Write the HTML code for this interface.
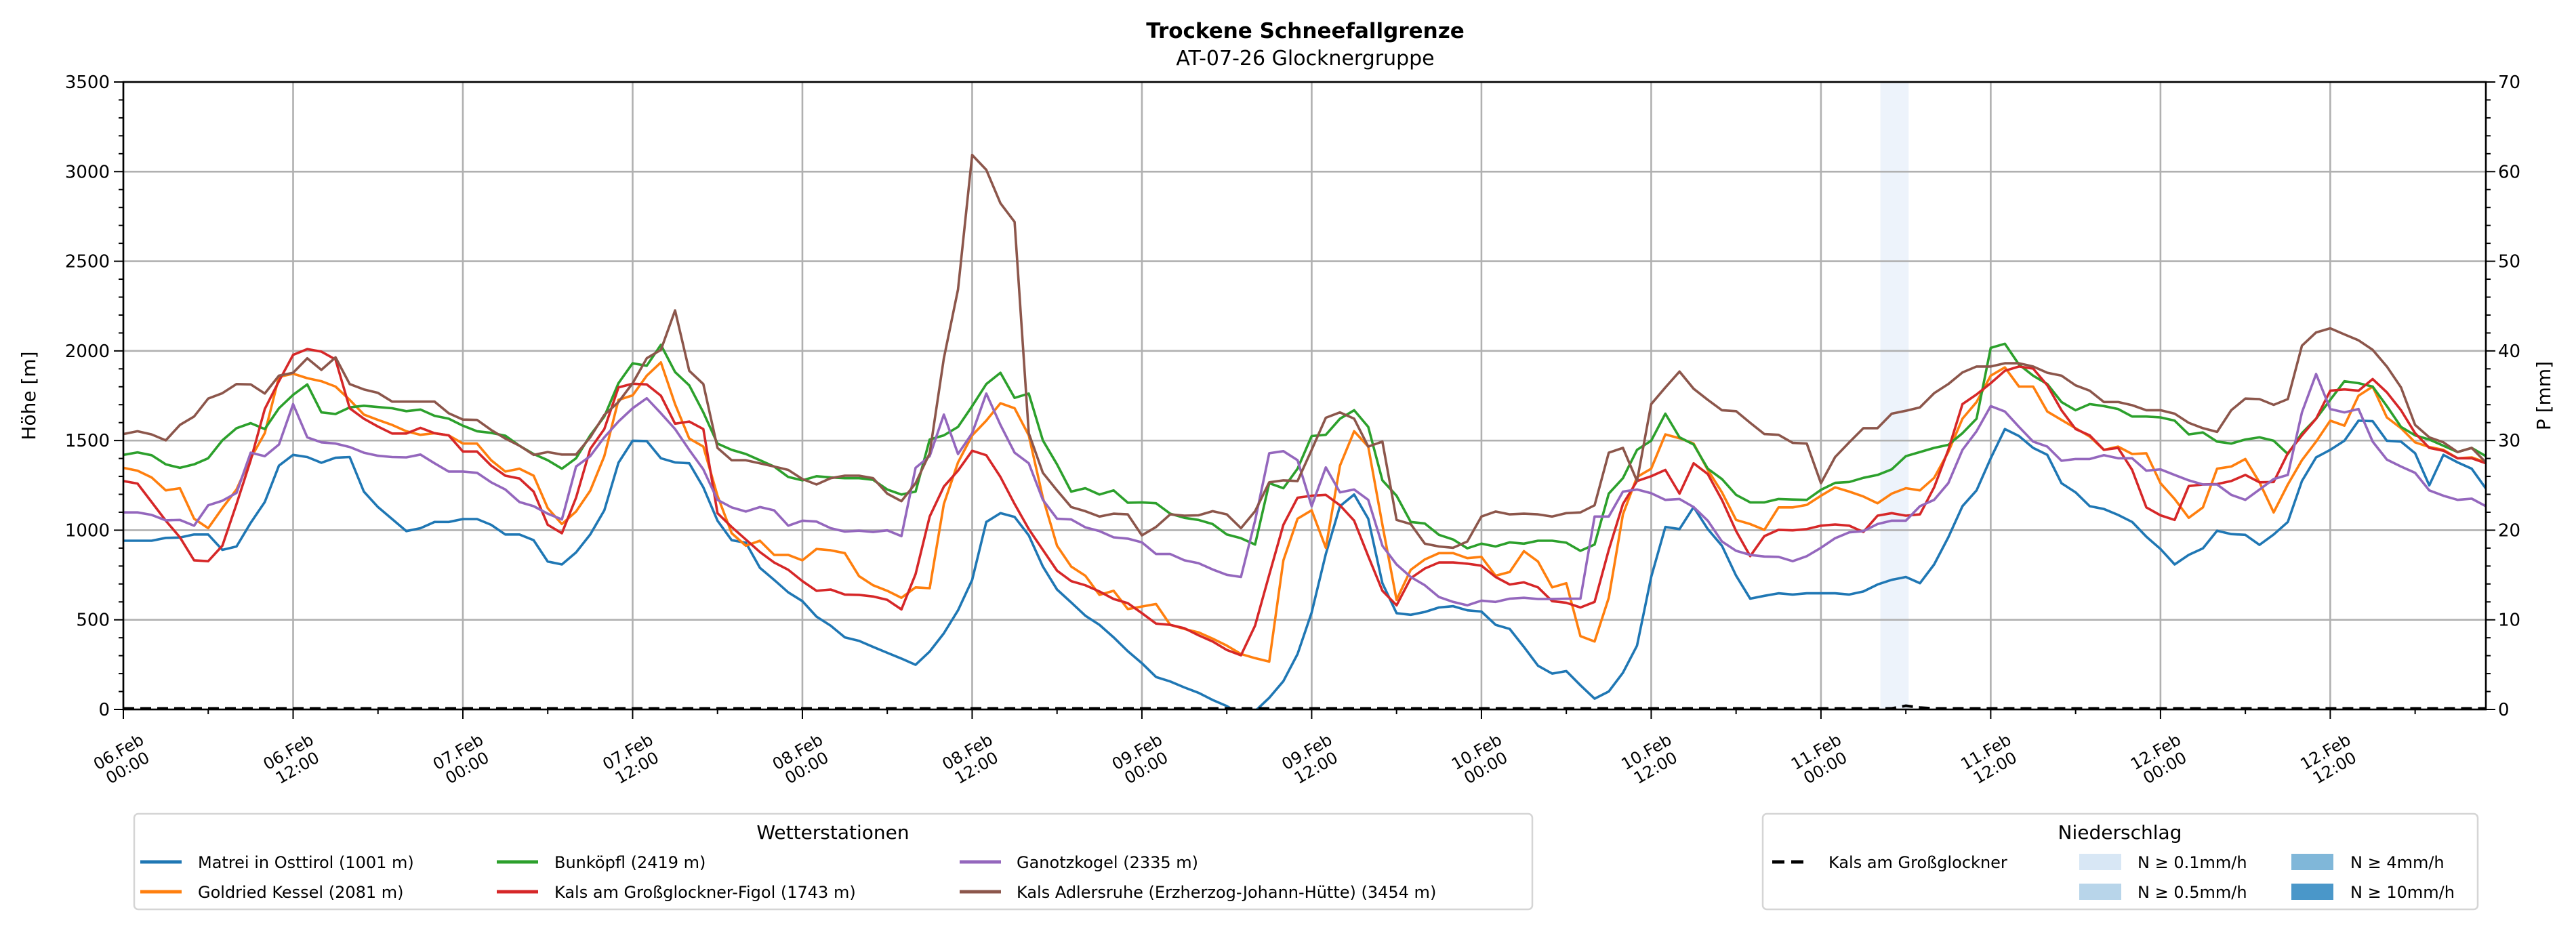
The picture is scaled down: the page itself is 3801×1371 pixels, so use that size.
<!DOCTYPE html>
<html><head><meta charset="utf-8"><style>
html,body{margin:0;padding:0;background:#fff;}
svg{display:block;font-family:"DejaVu Sans","Liberation Sans",sans-serif;}
</style></head><body>
<svg id="chart" xmlns="http://www.w3.org/2000/svg" width="3801" height="1371" viewBox="0 0 3801 1371">
<rect x="0" y="0" width="3801" height="1371" fill="#fff"/>
<text x="1926" y="56" text-anchor="middle" font-size="31" font-weight="bold">Trockene Schneefallgrenze</text>
<text x="1926" y="96" text-anchor="middle" font-size="30">AT-07-26 Glocknergruppe</text>
<defs><clipPath id="pc"><rect x="182" y="121" width="3486" height="926"/></clipPath></defs>
<g id="bands" clip-path="url(#pc)"></g>
<g id="grid"></g>
<g id="series" clip-path="url(#pc)"></g>
<g id="axes"></g>
<text transform="translate(52,584) rotate(-90)" text-anchor="middle" font-size="28">Höhe [m]</text>
<text transform="translate(3763,584) rotate(-90)" text-anchor="middle" font-size="28">P [mm]</text>

<g>
<rect x="198" y="1201" width="2063" height="141" rx="6" fill="#fff" stroke="#d5d5d5" stroke-width="2.5"/>
<text x="1229" y="1238" text-anchor="middle" font-size="28">Wetterstationen</text>
<g><line x1="207" y1="1272" x2="268" y2="1272" stroke="#1f77b4" stroke-width="5"/><text x="292" y="1281" font-size="24">Matrei in Osttirol (1001 m)</text></g>
<g><line x1="207" y1="1316" x2="268" y2="1316" stroke="#ff7f0e" stroke-width="5"/><text x="292" y="1325" font-size="24">Goldried Kessel (2081 m)</text></g>
<g><line x1="733" y1="1272" x2="794" y2="1272" stroke="#2ca02c" stroke-width="5"/><text x="818" y="1281" font-size="24">Bunköpfl (2419 m)</text></g>
<g><line x1="733" y1="1316" x2="794" y2="1316" stroke="#d62728" stroke-width="5"/><text x="818" y="1325" font-size="24">Kals am Großglockner-Figol (1743 m)</text></g>
<g><line x1="1416" y1="1272" x2="1477" y2="1272" stroke="#9467bd" stroke-width="5"/><text x="1500" y="1281" font-size="24">Ganotzkogel (2335 m)</text></g>
<g><line x1="1416" y1="1316" x2="1477" y2="1316" stroke="#8c564b" stroke-width="5"/><text x="1500" y="1325" font-size="24">Kals Adlersruhe (Erzherzog-Johann-Hütte) (3454 m)</text></g>
</g>

<g>
<rect x="2601" y="1201" width="1055" height="141" rx="6" fill="#fff" stroke="#d5d5d5" stroke-width="2.5"/>
<text x="3128" y="1238" text-anchor="middle" font-size="28">Niederschlag</text>
<g><line x1="2615" y1="1272" x2="2670" y2="1272" stroke="#000" stroke-width="5" stroke-dasharray="18,10"/><text x="2698" y="1281" font-size="24">Kals am Großglockner</text></g>
<g><rect x="3068" y="1260" width="62" height="24" fill="#d8e7f5"/><text x="3154" y="1281" font-size="24">N ≥ 0.1mm/h</text></g>
<g><rect x="3068" y="1304" width="62" height="24" fill="#b8d5ea"/><text x="3154" y="1325" font-size="24">N ≥ 0.5mm/h</text></g>
<g><rect x="3381" y="1260" width="62" height="24" fill="#80b7d9"/><text x="3468" y="1281" font-size="24">N ≥ 4mm/h</text></g>
<g><rect x="3381" y="1304" width="62" height="24" fill="#4a97c9"/><text x="3468" y="1325" font-size="24">N ≥ 10mm/h</text></g>
</g>
</svg>
<script>
const matrei=[941,941,941,957,959,976,976,890,909,1041,1157,1360,1420,1408,1376,1404,1408,1215,1129,1062,995,1011,1046,1046,1062,1062,1030,976,976,944,825,809,876,976,1111,1376,1499,1497,1401,1378,1373,1239,
1053,944,930,790,723,653,604,518,467,402,383,349,316,284,249,323,425,553,723,1046,1095,1074,971,797,669,597,523,472,402,325,258,181,156,123,93,53,19,-28,-10,65,158,
309,541,867,1134,1199,1064,704,537,528,544,569,576,553,546,472,449,349,244,200,214,135,60,100,205,356,739,1018,1006,1129,1006,913,746,618,634,648,641,648,648,648,641,658,
697,723,739,704,809,960,1134,1222,1401,1564,1525,1459,1420,1262,1211,1134,1118,1085,1046,964,895,809,862,899,997,978,974,918,976,1046,1274,1406,1448,1499,1611,1608,1499,1494,1429,1250,1420,1378,1343,1232];
const goldried=[1348,1332,1294,1222,1234,1064,1011,1123,1227,1401,1541,1855,1873,1848,1831,1801,1727,1645,1615,1587,1552,1532,1541,1529,1483,1483,1390,1327,1343,1304,1123,1034,1104,1220,1413,1727,1752,1862,1936,1703,1511,1466,
1192,983,913,941,862,862,832,895,888,872,744,693,662,623,681,676,1146,1378,1529,1611,1708,1680,1529,1181,913,797,746,639,662,560,574,588,472,449,430,395,356,309,286,267,832,
1064,1111,902,1360,1552,1466,1030,611,779,837,872,872,844,851,746,767,883,825,681,704,409,379,623,1088,1297,1343,1534,1513,1483,1336,1211,1057,1034,1002,1127,1127,1141,1192,1239,1215,1188,
1150,1204,1234,1222,1292,1436,1622,1715,1862,1908,1801,1801,1662,1615,1569,1522,1448,1466,1425,1429,1262,1174,1069,1127,1343,1355,1397,1267,1099,1255,1390,1494,1611,1583,1750,1801,1629,1569,1490,1464,1448,1401,1406,1378];
const bunkoepfl=[1420,1434,1418,1367,1348,1367,1401,1501,1569,1597,1564,1680,1755,1813,1657,1648,1685,1694,1687,1680,1664,1673,1638,1622,1583,1552,1543,1527,1471,1425,1390,1343,1401,1529,1634,1820,1931,1917,2034,1882,1808,1657,
1483,1448,1425,1390,1355,1297,1278,1301,1294,1290,1290,1281,1227,1199,1215,1506,1529,1576,1692,1815,1878,1738,1762,1501,1367,1215,1234,1199,1222,1153,1155,1150,1092,1069,1057,1034,976,955,920,1262,1234,
1343,1525,1532,1622,1669,1576,1278,1192,1046,1037,974,948,899,925,909,932,925,941,941,930,885,920,1204,1290,1448,1499,1650,1518,1478,1343,1285,1197,1155,1155,1174,1171,1169,1225,1264,1269,1292,
1308,1339,1413,1436,1459,1476,1541,1622,2017,2040,1924,1862,1815,1715,1669,1703,1692,1676,1634,1634,1629,1611,1534,1545,1494,1483,1506,1518,1499,1425,1541,1622,1727,1831,1820,1801,1692,1576,1529,1506,1471,1436,1459,1413];
const kalsFigol=[1274,1260,1157,1053,960,832,827,913,1146,1390,1676,1831,1978,2010,1996,1952,1680,1622,1578,1539,1539,1571,1541,1529,1439,1439,1360,1304,1288,1215,1030,983,1181,1453,1564,1796,1817,1813,1750,1594,1606,1564,
1095,1018,948,878,820,779,716,662,669,641,639,630,611,558,755,1076,1243,1332,1443,1418,1297,1146,1006,890,774,716,693,658,616,593,537,479,472,453,414,379,332,302,467,751,1030,
1181,1192,1197,1139,1053,855,662,581,732,786,820,820,813,802,739,697,709,681,604,595,569,600,890,1146,1274,1301,1336,1204,1373,1313,1169,995,855,967,1002,999,1006,1025,1032,1025,990,
1081,1095,1081,1088,1239,1448,1703,1757,1820,1889,1913,1901,1808,1669,1564,1529,1448,1459,1336,1127,1083,1057,1246,1255,1257,1274,1308,1267,1269,1429,1529,1622,1778,1785,1778,1843,1769,1669,1541,1459,1443,1401,1401,1373];
const ganotzkogel=[1099,1099,1085,1055,1057,1025,1139,1164,1208,1432,1413,1478,1703,1518,1490,1483,1464,1432,1415,1408,1406,1422,1373,1327,1327,1320,1267,1227,1157,1134,1092,1060,1355,1413,1518,1606,1680,1736,1652,1564,1448,1339,
1169,1127,1104,1129,1111,1025,1053,1048,1011,992,997,990,999,967,1348,1413,1645,1425,1541,1762,1587,1432,1373,1169,1064,1060,1016,995,960,953,932,867,867,832,816,781,751,739,1053,1429,1441,
1390,1134,1350,1211,1227,1169,913,809,739,693,627,600,581,607,600,618,623,616,616,618,618,1076,1076,1215,1227,1206,1169,1174,1129,1053,937,885,862,853,851,827,855,902,955,988,995,
1034,1053,1053,1134,1169,1262,1448,1552,1692,1662,1576,1494,1466,1387,1397,1397,1418,1401,1401,1332,1339,1308,1278,1255,1255,1197,1169,1227,1285,1308,1657,1871,1676,1657,1676,1494,1394,1355,1320,1222,1192,1169,1176,1134];
const adlersruhe=[1536,1552,1534,1501,1587,1634,1734,1764,1815,1813,1762,1862,1878,1959,1894,1964,1815,1785,1766,1717,1717,1717,1717,1652,1617,1615,1559,1511,1471,1420,1436,1422,1422,1518,1643,1715,1820,1959,2006,2226,1889,1815,
1459,1390,1390,1373,1355,1336,1285,1255,1290,1304,1304,1290,1204,1162,1262,1429,1959,2343,3093,3010,2824,2719,1541,1320,1222,1129,1106,1076,1092,1088,971,1018,1088,1081,1083,1106,1088,1011,1106,1267,1278,
1274,1448,1627,1657,1622,1466,1494,1057,1034,925,909,902,937,1076,1104,1088,1092,1088,1076,1095,1099,1139,1432,1459,1274,1703,1796,1885,1789,1727,1669,1664,1599,1536,1532,1487,1483,1262,1408,1490,1569,
1569,1650,1666,1685,1764,1815,1880,1913,1913,1931,1931,1913,1878,1862,1808,1778,1715,1715,1697,1669,1669,1650,1599,1569,1548,1669,1734,1731,1699,1731,2029,2103,2126,2092,2059,2006,1913,1796,1587,1518,1490,1436,1459,1378];
const precipHours=[0,125,126,127,128,167];
const precipMM=[0,0,0.3,0.1,0,0];
const rainStart=[124.2];
const rainEnd=[126.2];
const rainColor=["#edf3fb"];
const yTicks=[0,500,1000,1500,2000,2500,3000,3500];
const y2Ticks=[0,10,20,30,40,50,60,70];
const xTickDays=["06.Feb","06.Feb","07.Feb","07.Feb","08.Feb","08.Feb","09.Feb","09.Feb","10.Feb","10.Feb","11.Feb","11.Feb","12.Feb","12.Feb"];
const xTickTimes=["00:00","12:00","00:00","12:00","00:00","12:00","00:00","12:00","00:00","12:00","00:00","12:00","00:00","12:00"];

const NS="http://www.w3.org/2000/svg";
const L=182,R=3668,T=121,B=1047,HMAX=167;
const X=h=>L+h*(R-L)/HMAX;
const Y=v=>B-v*(B-T)/3500;
const Y2=p=>B-p*(B-T)/70;
function mk(tag,attrs,parent){const e=document.createElementNS(NS,tag);for(const k in attrs)e.setAttribute(k,attrs[k]);parent.appendChild(e);return e;}
const bands=document.getElementById('bands'),grid=document.getElementById('grid'),ser=document.getElementById('series'),axes=document.getElementById('axes');

rainStart.forEach((s,i)=>{const r=mk('rect',{x:X(s),y:T,width:X(rainEnd[i])-X(s),height:B-T,fill:rainColor[i]},bands);

});

yTicks.forEach(v=>{const g=mk('line',{x1:L,x2:R,y1:Y(v),y2:Y(v),stroke:'#b0b0b0','stroke-width':2.6},grid);

});
xTickDays.forEach((d,i)=>{const x=X(i*12);const g=mk('line',{x1:x,x2:x,y1:T,y2:B,stroke:'#b0b0b0','stroke-width':2.6},grid);

});

const series=[[matrei,'#1f77b4','matrei'],[goldried,'#ff7f0e','goldried'],[bunkoepfl,'#2ca02c','bunkoepfl'],[kalsFigol,'#d62728','kals-figol'],[ganotzkogel,'#9467bd','ganotzkogel'],[adlersruhe,'#8c564b','adlersruhe']];
series.forEach(([arr,c,n])=>{const d=arr.map((v,i)=>(i?'L':'M')+X(i).toFixed(1)+','+Y(v).toFixed(1)).join('');
const p=mk('path',{d:d,fill:'none',stroke:c,'stroke-width':3.6,'stroke-linejoin':'round'},ser);

});
const pd=precipHours.map((h,i)=>(i?'L':'M')+X(h).toFixed(1)+','+(Y2(precipMM[i])-1.5).toFixed(1)).join('');
const pl=mk('path',{d:pd,fill:'none',stroke:'#000','stroke-width':4,'stroke-dasharray':'16,9'},ser);



mk('rect',{x:L,y:T,width:R-L,height:B-T,fill:'none',stroke:'#000','stroke-width':2.6},axes);
for(let v=0;v<=3500;v+=100){const maj=v%500===0;mk('line',{x1:L,x2:L-(maj?14:7),y1:Y(v),y2:Y(v),stroke:'#000','stroke-width':2},axes);}
for(let p=0;p<=70;p+=2){const maj=p%10===0;mk('line',{x1:R,x2:R+(maj?14:7),y1:Y2(p),y2:Y2(p),stroke:'#000','stroke-width':2},axes);}
for(let h=0;h<=HMAX;h+=6){const maj=h%12===0;mk('line',{x1:X(h),x2:X(h),y1:B,y2:B+(maj?14:7),stroke:'#000','stroke-width':2},axes);}
yTicks.forEach(v=>{const t=mk('text',{x:L-20,y:Y(v)+9,'text-anchor':'end','font-size':26},axes);t.textContent=v;

});
y2Ticks.forEach(p=>{const t=mk('text',{x:R+18,y:Y2(p)+9,'font-size':26},axes);t.textContent=p;

});
xTickDays.forEach((d,i)=>{const x=X(i*12);const g=mk('g',{transform:'translate('+x+',1122) rotate(-30)'},axes);


const a=mk('text',{x:0,y:-6,'text-anchor':'middle','font-size':24},g);a.textContent=d;
const b=mk('text',{x:0,y:21,'text-anchor':'middle','font-size':24},g);b.textContent=xTickTimes[i];});
</script>
</body></html>
